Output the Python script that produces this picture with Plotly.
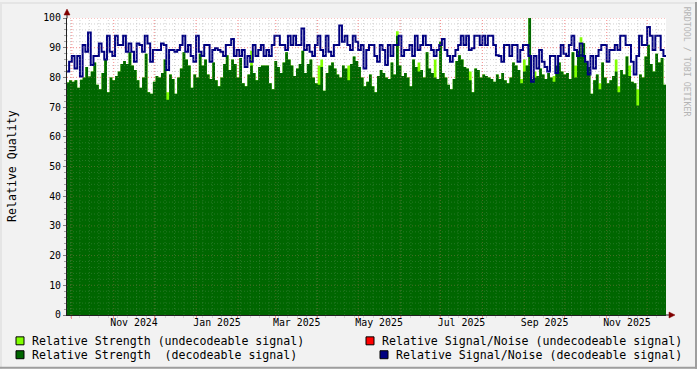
import pandas as pd
import plotly.graph_objects as go

# ---------------- data ----------------
start_date = "2024-09-27"
step = "2D"

strength_decodeable = [
    78.3, 79.0, 78.5, 79.0, 76.5, 79.2, 80.0, 83.5, 80.3, 82.0, 85.0, 77.5, 76.0, 81.5, 86.0, 75.0, 80.0, 79.0, 80.5, 82.0,
    84.5, 85.5, 84.5, 88.5, 84.0, 82.5, 79.0, 76.5, 80.0, 88.0, 75.0, 74.5, 78.5, 80.5, 80.0, 81.5, 86.0,
    72.5, 81.0, 79.5, 74.5, 80.0, 83.0, 88.5, 86.0, 84.0, 76.5, 81.0, 80.0, 88.0, 84.0, 86.0, 81.0, 79.5, 85.0, 79.0, 77.0,
    80.0, 84.5, 87.5, 82.5, 86.0, 84.5, 80.0, 86.5, 78.0, 77.0, 81.0, 84.0, 81.5, 79.0, 83.5, 84.0, 84.0,
    84.0, 78.0, 76.0, 85.5, 83.5, 81.5, 85.0, 88.5, 86.0, 84.0, 80.5, 83.0, 84.5, 89.0, 81.5, 84.5, 86.0, 80.0, 78.0, 77.5,
    83.5, 75.5, 81.5, 84.0, 85.0, 83.0, 81.0, 80.0, 84.0, 83.0, 79.0, 84.5, 87.0, 85.5, 83.5, 80.0, 77.0,
    78.5, 81.0, 77.0, 75.0, 80.5, 82.5, 81.5, 80.0, 79.5, 85.0, 81.0, 94.0, 84.0, 80.5, 81.5, 80.0, 77.0, 86.0, 83.5, 82.0,
    82.5, 80.0, 88.5, 83.0, 81.5, 80.0, 79.5, 92.0, 81.5, 80.0, 77.5, 76.0, 79.5, 85.5, 87.5, 86.0, 83.5,
    83.0, 79.0, 75.0, 83.0, 82.5, 80.0, 81.0, 80.5, 80.0, 79.5, 78.5, 81.0, 79.5, 81.5, 79.0, 78.0, 80.0, 85.0, 84.0, 82.5,
    78.0, 82.0, 84.0, 100.0, 79.5, 80.0, 80.5, 83.0, 81.0, 79.5, 81.5, 80.0, 78.5, 84.0, 85.0, 82.0, 81.0,
    81.5, 79.5, 88.5, 80.0, 89.0, 88.0, 91.5, 85.0, 83.5, 74.5, 79.0, 81.0, 76.0, 85.0, 80.0, 78.0, 79.0, 80.5, 82.0, 75.0,
    82.5, 81.0, 87.0, 80.5, 78.5, 78.0, 70.5, 81.0, 80.0, 87.0, 91.0, 84.5, 82.0, 88.0, 85.0, 86.5, 77.5,
]

# undecodeable strength where it rises above the decodeable value (sample index, value)
undecodeable_index = [37, 68, 93, 94, 104, 122, 130, 136, 149, 168, 169, 173, 180, 188, 190, 197, 203, 204, 208, 211]
undecodeable_value = [75.0, 89.0, 84.0, 86.0, 84.0, 95.5, 85.0, 86.0, 82.0, 79.5, 86.0, 82.0, 80.5, 84.0, 93.5, 78.0,
                      86.0, 77.0, 84.0, 76.0]

snr_decodeable = [
    82.0, 85.3, 87.2, 83.0, 87.2, 80.3, 90.9, 88.6, 95.1, 84.2, 87.2, 87.2, 91.4, 88.6, 86.0, 94.0, 88.6, 87.2, 94.0, 90.9,
    90.9, 94.0, 88.6, 91.4, 88.6, 85.3, 91.4, 90.9, 88.6, 94.0, 91.4, 85.3, 89.2, 89.2, 89.2, 91.4, 90.9,
    82.5, 89.2, 89.2, 88.6, 89.2, 90.9, 94.0, 88.6, 90.9, 87.2, 85.3, 94.0, 88.6, 87.2, 90.9, 90.9, 85.3, 89.2, 89.8, 89.2,
    88.6, 87.2, 90.9, 90.9, 92.9, 87.2, 89.2, 87.2, 89.2, 83.5, 87.2, 85.3, 90.9, 87.2, 89.2, 90.9, 87.2,
    89.2, 87.2, 90.9, 94.0, 94.0, 90.9, 90.9, 89.2, 94.0, 90.9, 94.0, 90.9, 90.9, 96.5, 89.2, 90.9, 88.6, 87.2, 90.9, 94.0,
    89.2, 87.2, 94.0, 88.6, 87.2, 90.9, 90.9, 97.5, 92.0, 94.0, 90.9, 89.2, 94.0, 92.0, 89.2, 90.9, 83.0,
    89.2, 90.9, 90.9, 87.2, 85.3, 90.9, 89.2, 84.2, 90.9, 87.2, 90.9, 90.9, 94.0, 87.2, 89.2, 89.2, 90.9, 87.2, 94.0, 89.2,
    90.9, 94.0, 90.9, 90.9, 89.2, 87.2, 89.2, 90.9, 92.9, 89.2, 87.2, 85.3, 87.2, 89.2, 90.9, 94.0, 90.9,
    94.0, 89.2, 89.8, 94.0, 94.0, 90.9, 94.0, 90.9, 94.0, 94.0, 90.9, 87.5, 87.2, 85.3, 90.9, 90.9, 87.2, 90.9, 90.9, 85.3,
    89.2, 90.9, 90.9, 87.2, 78.5, 87.2, 83.0, 89.2, 85.3, 83.5, 82.0, 87.2, 87.2, 81.5, 87.2, 90.9, 88.0,
    87.2, 90.9, 94.0, 89.2, 87.2, 91.4, 87.2, 85.3, 81.0, 87.2, 83.0, 87.2, 89.2, 90.9, 90.9, 85.3, 89.2, 89.2, 90.9, 89.2,
    94.0, 94.0, 90.9, 90.9, 85.3, 81.0, 87.2, 94.0, 90.9, 90.9, 97.0, 94.0, 89.2, 94.0, 94.0, 89.2, 87.2,
]

y_ticks = [0, 10, 20, 30, 40, 50, 60, 70, 80, 90, 100]
y_minor_step = 2
x_labels = ["Nov 2024", "Jan 2025", "Mar 2025", "May 2025", "Jul 2025", "Sep 2025", "Nov 2025"]
x_range = ["2024-09-27 10:00", "2025-12-14 22:00"]

legend_items = [
    ("Relative Strength (undecodeable signal)", "#80FF00"),
    ("Relative Strength  (decodeable signal)", "#006600"),
    ("Relative Signal/Noise (undecodeable signal)", "#FF0000"),
    ("Relative Signal/Noise (decodeable signal)", "#000080"),
]

# ---------------- build ----------------
dates = pd.date_range(start_date, periods=len(strength_decodeable), freq=step)
end_date = dates[-1] + pd.Timedelta(step)
xd = list(dates) + [end_date]

undec = list(strength_decodeable)
for i, v in zip(undecodeable_index, undecodeable_value):
    undec[i] = max(undec[i], v)

W, H = 697, 369
L, R, T, B = 67, 666, 16, 315


def px(x):
    return (x - L) / (R - L)


def py(y):
    return (B - y) / (B - T)


GRID_BELOW = "rgba(204,204,204,0.8)"
MGRID_BELOW = "rgba(240,120,120,0.75)"
GRID_ABOVE = "rgba(204,204,204,0.18)"
MGRID_ABOVE = "rgba(245,128,128,0.3)"
AXIS = "#212121"
ARROW = "#800000"
FONT = "DejaVu Sans Mono"
DASH = "1px,2px"

fig = go.Figure()
fig.add_trace(go.Scatter(x=xd, y=undec + [undec[-1]], mode="lines", line=dict(width=0, shape="hv"),
                         fill="tozeroy", fillcolor="#80FF00", hoverinfo="skip"))
fig.add_trace(go.Scatter(x=xd, y=strength_decodeable + [strength_decodeable[-1]], mode="lines",
                         line=dict(width=0, shape="hv"), fill="tozeroy", fillcolor="#006600", hoverinfo="skip"))
fig.add_trace(go.Scatter(x=xd, y=snr_decodeable + [snr_decodeable[-1]], mode="lines",
                         line=dict(width=2, shape="hv", color="#000080"), hoverinfo="skip"))
fig.add_trace(go.Scatter(x=[dates[0]], y=[None], xaxis="x2", yaxis="y", showlegend=False, hoverinfo="skip"))

month_starts = pd.date_range("2024-10-01", "2025-12-01", freq="MS")
week_starts = pd.date_range("2024-09-30", "2025-12-14", freq="7D")
mids = []
for lbl in x_labels:
    m = pd.to_datetime(lbl, format="%b %Y")
    nxt = m + pd.offsets.MonthBegin(1)
    mids.append(m + (nxt - m) / 2)

fig.update_layout(
    width=W, height=H,
    margin=dict(l=L, r=W - R, t=T, b=H - B),
    paper_bgcolor="#F2F2F2", plot_bgcolor="#FFFFFF",
    showlegend=False,
    font=dict(family=FONT, size=10, color="#000000"),
    xaxis=dict(
        type="date", range=x_range, tickmode="array", tickvals=list(month_starts),
        ticktext=[""] * len(month_starts), showgrid=False,
        ticks="outside", ticklen=3, tickcolor=MGRID_BELOW, showline=True, linecolor=AXIS, linewidth=1,
        layer="above traces", zeroline=False, fixedrange=True,
        minor=dict(tickmode="array", tickvals=list(week_starts), showgrid=False,
                   ticks="outside", ticklen=2, tickcolor=GRID_BELOW),
    ),
    xaxis2=dict(
        type="date", overlaying="x", matches="x", anchor="y", side="bottom",
        tickmode="array", tickvals=mids, ticktext=x_labels, showgrid=False, ticks="",
        showline=False, zeroline=False, tickfont=dict(family=FONT, size=9.9, color="#000000"),
    ),
    yaxis=dict(
        range=[0, 100], tickmode="array", tickvals=y_ticks, ticktext=[str(v) for v in y_ticks],
        showgrid=False, ticks="outside", ticklen=3, tickcolor="#808080",
        showline=True, linecolor=AXIS, linewidth=1, layer="above traces", zeroline=False,
        tickfont=dict(family=FONT, size=9.9, color="#000000"),
        minor=dict(dtick=y_minor_step, showgrid=False, ticks="outside", ticklen=2, tickcolor="#A0A0A0"),
    ),
)

shapes = []
# 3D frame
shapes.append(dict(type="rect", xref="paper", yref="paper", x0=px(0), x1=px(W), y0=py(0), y1=py(2),
                   fillcolor="#E5E5E5", line=dict(width=0), layer="below"))
shapes.append(dict(type="rect", xref="paper", yref="paper", x0=px(0), x1=px(2), y0=py(0), y1=py(H),
                   fillcolor="#E5E5E5", line=dict(width=0), layer="below"))
shapes.append(dict(type="rect", xref="paper", yref="paper", x0=px(0), x1=px(W), y0=py(H - 2), y1=py(H),
                   fillcolor="#9E9E9E", line=dict(width=0), layer="below"))
shapes.append(dict(type="rect", xref="paper", yref="paper", x0=px(W - 2), x1=px(W), y0=py(0), y1=py(H),
                   fillcolor="#9E9E9E", line=dict(width=0), layer="below"))

# grid: full strength below the data, faint copy above it (texture over the filled area)
month_set = set(month_starts)
major_set = set(y_ticks)
minor_weeks = [wk for wk in week_starts if wk not in month_set]
minor_vals = [v for v in range(y_ticks[0], y_ticks[-1] + 1, y_minor_step) if v not in major_set]
for layer, gcol, mcol in (("below", GRID_BELOW, MGRID_BELOW), ("above", GRID_ABOVE, MGRID_ABOVE)):
    for wk in minor_weeks:
        shapes.append(dict(type="line", xref="x", yref="paper", x0=wk, x1=wk, y0=0, y1=1, layer=layer,
                           line=dict(color=gcol, width=1, dash=DASH)))
    for v in minor_vals:
        shapes.append(dict(type="line", xref="paper", yref="y", x0=0, x1=1, y0=v, y1=v, layer=layer,
                           line=dict(color=gcol, width=1, dash=DASH)))
    for ms in month_starts:
        shapes.append(dict(type="line", xref="x", yref="paper", x0=ms, x1=ms, y0=0, y1=1, layer=layer,
                           line=dict(color=mcol, width=1, dash=DASH)))
    for v in y_ticks[1:]:
        shapes.append(dict(type="line", xref="paper", yref="y", x0=0, x1=1, y0=v, y1=v, layer=layer,
                           line=dict(color=mcol, width=1, dash=DASH)))

# axis extensions and arrows
shapes.append(dict(type="line", xref="paper", yref="paper", x0=px(L), x1=px(L), y0=py(T), y1=py(T - 4),
                   line=dict(color=AXIS, width=1)))
shapes.append(dict(type="path", xref="paper", yref="paper",
                   path=f"M {px(L-3)},{py(T-3)} L {px(L+3)},{py(T-3)} L {px(L)},{py(T-9)} Z",
                   fillcolor=ARROW, line=dict(color=ARROW, width=0.5)))
shapes.append(dict(type="line", xref="paper", yref="paper", x0=px(R), x1=px(R + 4), y0=py(B), y1=py(B),
                   line=dict(color=AXIS, width=1)))
shapes.append(dict(type="path", xref="paper", yref="paper",
                   path=f"M {px(R+3)},{py(B-3)} L {px(R+3)},{py(B+3)} L {px(R+9)},{py(B)} Z",
                   fillcolor=ARROW, line=dict(color=ARROW, width=0.5)))

annotations = []
legend_pos = [(16, 341, 30), (16, 355, 30), (366, 341, 380), (380, 355, 394)]
for (text, color), (bx, cy, tx) in zip(legend_items, legend_pos):
    shapes.append(dict(type="rect", xref="paper", yref="paper", x0=px(bx), x1=px(bx + 8),
                       y0=py(cy - 4), y1=py(cy + 4), fillcolor=color, line=dict(color="#000000", width=1)))
    annotations.append(dict(text=text.replace(" ", "\u00a0"), xref="paper", yref="paper", x=px(tx), y=py(cy),
                            xanchor="left", yanchor="middle", showarrow=False,
                            font=dict(family=FONT, size=11.6, color="#000000")))

annotations.append(dict(text="Relative\u00a0Quality", xref="paper", yref="paper", x=px(12), y=py(165),
                        xanchor="center", yanchor="middle", textangle=-90, showarrow=False,
                        font=dict(family=FONT, size=11.6, color="#000000")))
annotations.append(dict(text="RRDTOOL\u00a0/\u00a0TOBI\u00a0OETIKER", xref="paper", yref="paper", x=px(687),
                        y=py(60), xanchor="center", yanchor="middle", textangle=90, showarrow=False,
                        font=dict(family=FONT, size=8.3, color="#B4B4B4")))

fig.update_layout(shapes=shapes, annotations=annotations)
fig.write_html("out.html")
